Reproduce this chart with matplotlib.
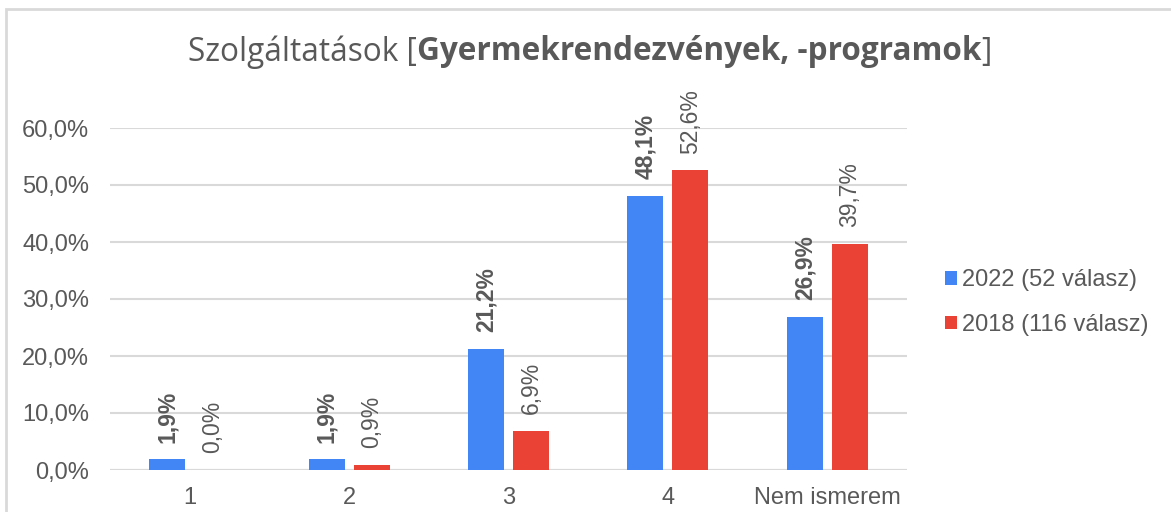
import numpy as np
import matplotlib.pyplot as plt
from matplotlib.patches import Rectangle

categories = ['1', '2', '3', '4', 'Nem ismerem']
values_2022 = [1.9, 1.9, 21.2, 48.1, 26.9]
values_2018 = [0.0, 0.9, 6.9, 52.6, 39.7]
series_names = ['2022 (52 válasz)', '2018 (116 válasz)']
yticks = [0, 10, 20, 30, 40, 50, 60]

BLUE = '#4285F4'
RED = '#EA4335'
GRAY = '#595959'
GRID = '#D9D9D9'
FS = 17

W, H = 1171, 512
fig = plt.figure(figsize=(W / 100, H / 100), dpi=100)
fig.patch.set_facecolor('white')

# outer chart frame (cut off at right/bottom in the screenshot)
fig.add_artist(Rectangle((6 / W, -0.1), 1.2, (H - 9) / H + 0.1,
                         transform=fig.transFigure, fill=False,
                         edgecolor=GRID, lw=2))
# heading above the chart, mostly cut off at the top edge
fig.text(95 / W, 1 - (-6) / H, 'Gyermekrendezvények, -programok',
         color='#1F4E99', fontsize=17, family='Open Sans', va='baseline')

ax = fig.add_axes([110 / W, (H - 470) / H, 797 / W, 342 / H])
x = np.arange(len(categories))
bw = 0.226
gap = 0.056
off = (bw + gap) / 2

b1 = ax.bar(x - off, values_2022, bw, color=BLUE, zorder=3)
b2 = ax.bar(x + off, values_2018, bw, color=RED, zorder=3)

for xi, v in zip(x - off, values_2022):
    ax.annotate(f'{v:.1f}%'.replace('.', ','), (xi, v), xytext=(0, 12),
                textcoords='offset points', rotation=90, ha='center', va='bottom',
                fontsize=16.5, fontweight='bold', color=GRAY,
                family='Liberation Sans', annotation_clip=False)
for xi, v in zip(x + off, values_2018):
    ax.annotate(f'{v:.1f}%'.replace('.', ','), (xi, v), xytext=(0, 12),
                textcoords='offset points', rotation=90, ha='center', va='bottom',
                fontsize=16.5, color=GRAY,
                family='Liberation Sans', annotation_clip=False)

ax.set_xlim(-0.5, len(categories) - 0.5)
ax.set_ylim(0, 60)
ax.set_yticks(yticks)
ax.set_yticklabels([f'{t},0%' for t in yticks])
ax.set_xticks(x)
ax.set_xticklabels(categories)
ax.tick_params(length=0, labelsize=FS, labelcolor=GRAY)
ax.tick_params(axis='y', pad=15)
ax.tick_params(axis='x', pad=12)
for lab in ax.get_xticklabels() + ax.get_yticklabels():
    lab.set_family('Liberation Sans')
ax.grid(axis='y', color=GRID, lw=1.5, zorder=0)
for s in ax.spines.values():
    s.set_visible(False)
ax.axhline(0, color=GRID, lw=1.5, zorder=2)

# title with a bold middle part, centred as a whole
fig.canvas.draw()
r = fig.canvas.get_renderer()
parts = [('Szolgáltatások [', 'normal'), ('Gyermekrendezvények, -programok', 'bold'),
         (']', 'normal')]
objs = [fig.text(0, 1 - 52 / H, p, fontsize=22.7, color=GRAY, family='Open Sans',
                 fontweight=w, va='center') for p, w in parts]
widths = [o.get_window_extent(r).width for o in objs]
xs = 590 - sum(widths) / 2
for o, wd in zip(objs, widths):
    o.set_x(xs / W)
    xs += wd

ax.legend([b1, b2], series_names, loc='upper left',
          bbox_to_anchor=(924 / W, 1 - 248 / H), bbox_transform=fig.transFigure,
          frameon=False, prop={'family': 'Liberation Sans', 'size': FS},
          handlelength=0.5, handleheight=0.5, handletextpad=0.2,
          labelspacing=0.95, labelcolor=GRAY)

fig.savefig('out.png', dpi=100)
